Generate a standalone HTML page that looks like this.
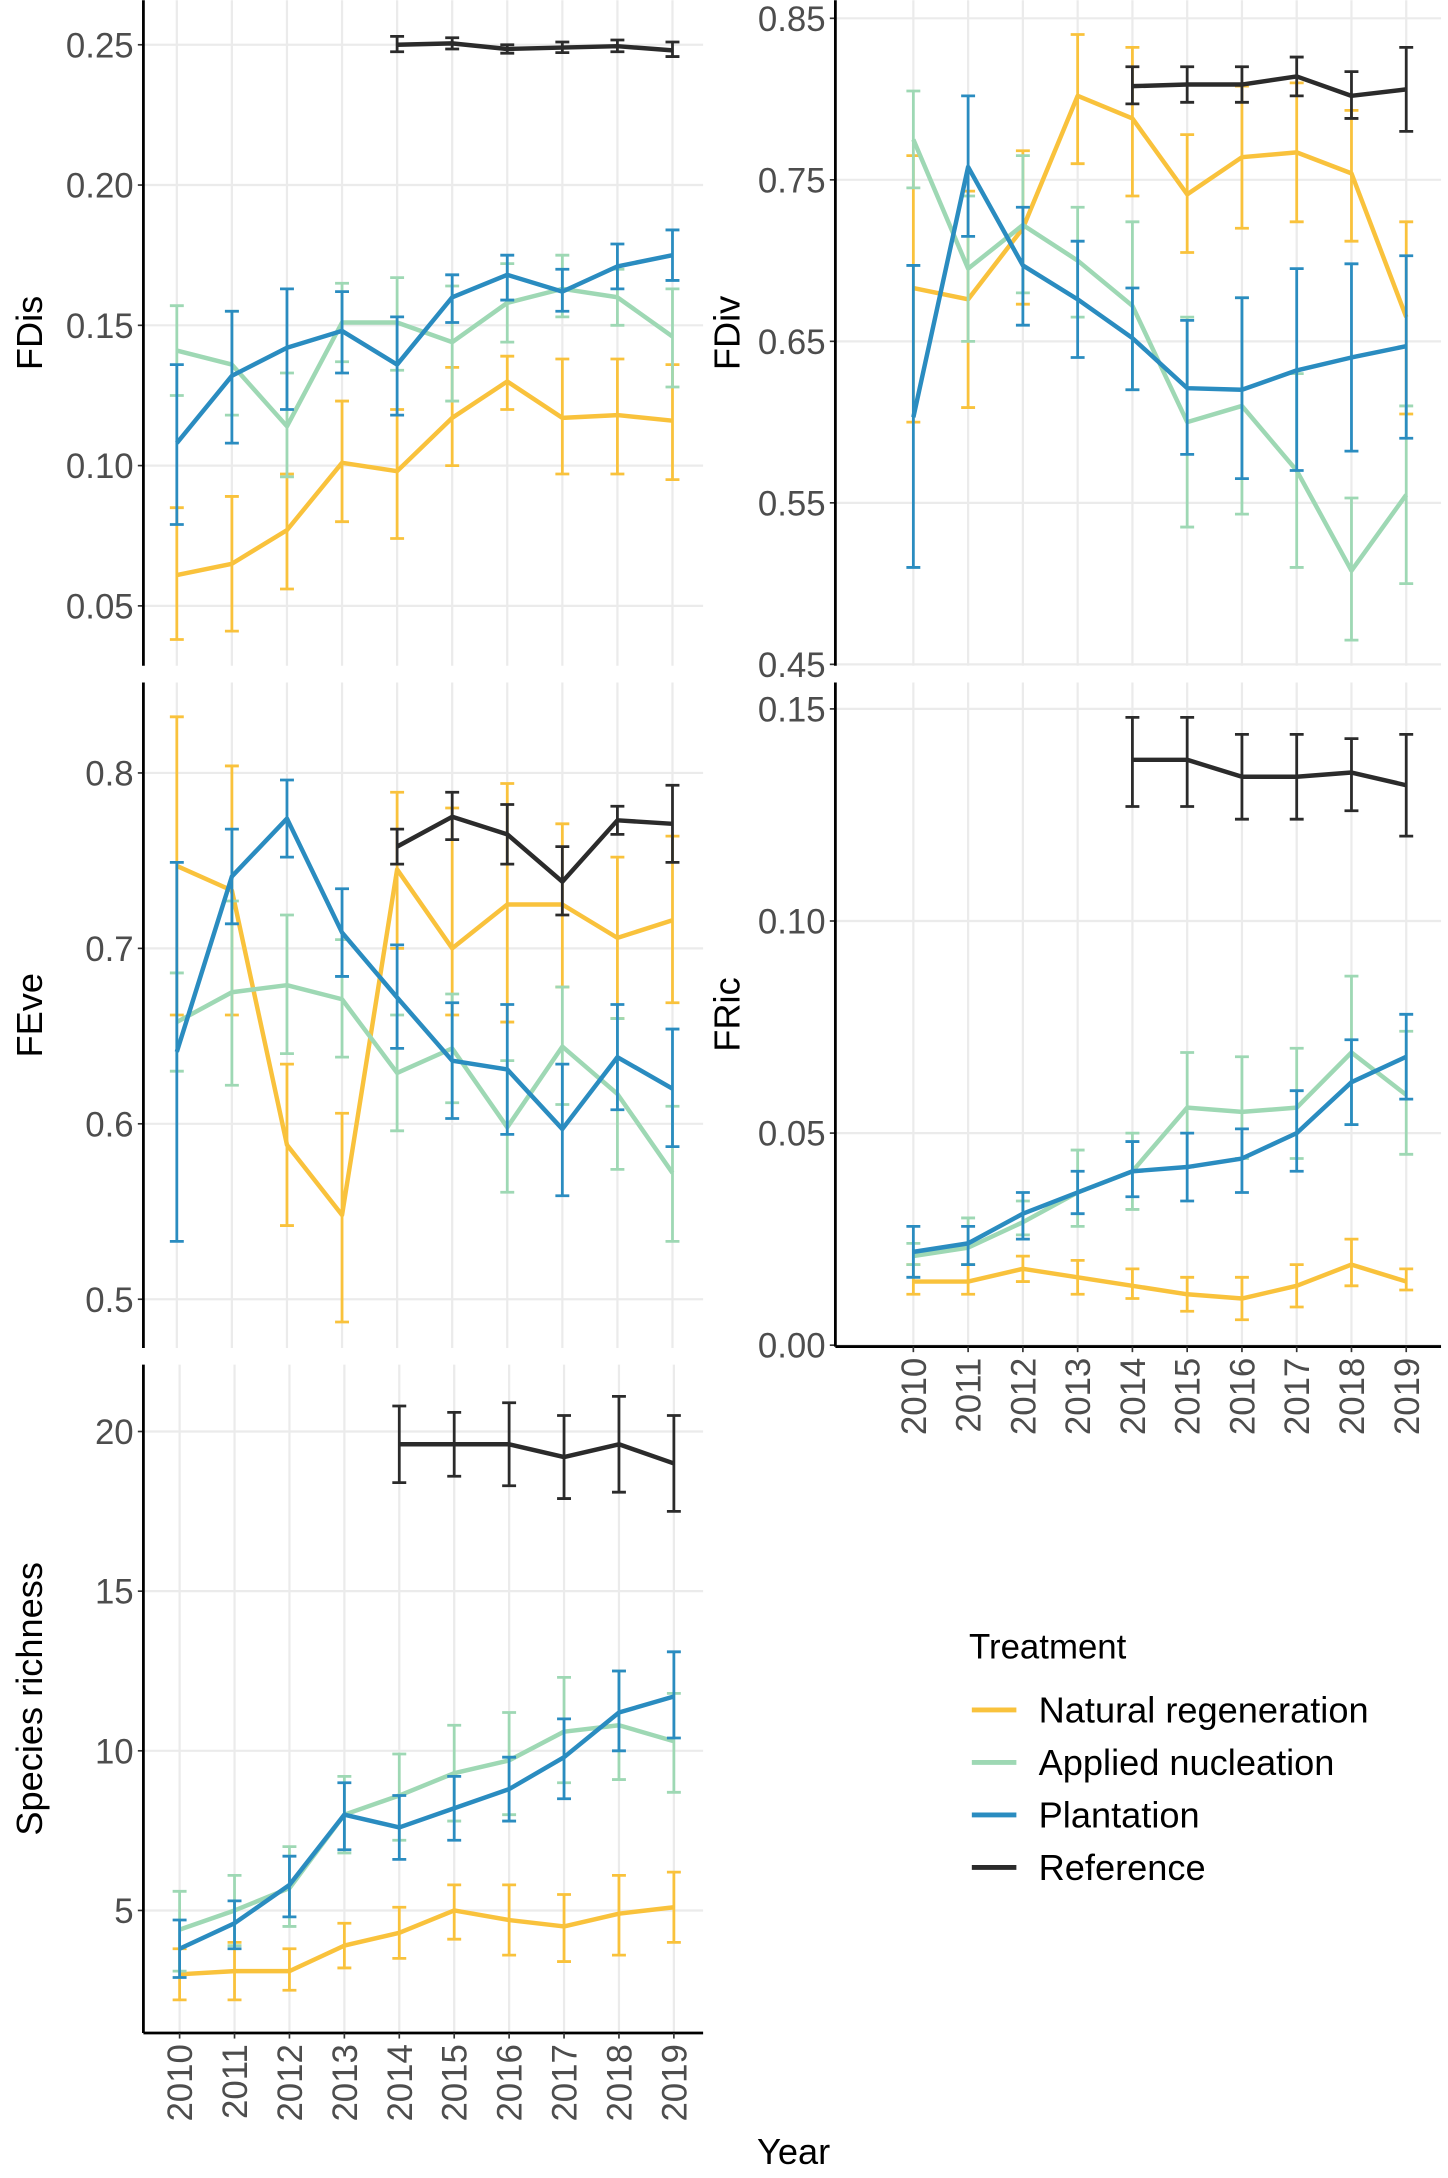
<!DOCTYPE html>
<html><head><meta charset="utf-8"><style>
html,body{margin:0;padding:0;background:#fff;}
svg{display:block;}
</style></head><body>
<svg id="fig" width="1448" height="2178" viewBox="0 0 1040 1564" xmlns="http://www.w3.org/2000/svg" font-family="Liberation Sans, Arial, sans-serif"></svg>
<script>
const years = [2010,2011,2012,2013,2014,2015,2016,2017,2018,2019];
const refYears = [2014,2015,2016,2017,2018,2019];
const seriesNames = ["Natural regeneration","Applied nucleation","Plantation","Reference"];
const seriesColors = ["#F9C23C","#9ED8B4","#2A8CC0","#2B2B2B"];

// FDis
const fdisNat = [0.061,0.065,0.077,0.101,0.098,0.117,0.130,0.117,0.118,0.116];
const fdisNatLo = [0.038,0.041,0.056,0.080,0.074,0.100,0.120,0.097,0.097,0.095];
const fdisNatHi = [0.085,0.089,0.097,0.123,0.120,0.135,0.139,0.138,0.138,0.136];
const fdisApp = [0.141,0.136,0.114,0.151,0.151,0.144,0.158,0.163,0.160,0.146];
const fdisAppLo = [0.125,0.118,0.096,0.137,0.134,0.123,0.144,0.153,0.150,0.128];
const fdisAppHi = [0.157,0.155,0.133,0.165,0.167,0.164,0.172,0.175,0.170,0.163];
const fdisPla = [0.108,0.132,0.142,0.148,0.136,0.160,0.168,0.162,0.171,0.175];
const fdisPlaLo = [0.079,0.108,0.120,0.133,0.118,0.151,0.159,0.155,0.163,0.166];
const fdisPlaHi = [0.136,0.155,0.163,0.162,0.153,0.168,0.175,0.170,0.179,0.184];
const fdisRef = [0.2500,0.2505,0.2485,0.2490,0.2495,0.2480];
const fdisRefLo = [0.2475,0.2485,0.2470,0.2472,0.2475,0.2458];
const fdisRefHi = [0.2530,0.2525,0.2500,0.2510,0.2517,0.2510];
const fdisTicks = [0.05,0.10,0.15,0.20,0.25];
const fdisTickLabels = ["0.05","0.10","0.15","0.20","0.25"];

// FDiv
const fdivNat = [0.683,0.676,0.720,0.802,0.788,0.741,0.764,0.767,0.754,0.665];
const fdivNatLo = [0.600,0.609,0.673,0.760,0.740,0.705,0.720,0.724,0.712,0.605];
const fdivNatHi = [0.765,0.743,0.768,0.840,0.832,0.778,0.808,0.810,0.793,0.724];
const fdivApp = [0.775,0.695,0.722,0.700,0.672,0.600,0.610,0.570,0.508,0.555];
const fdivAppLo = [0.745,0.650,0.680,0.665,0.620,0.535,0.543,0.510,0.465,0.500];
const fdivAppHi = [0.805,0.740,0.765,0.733,0.724,0.665,0.677,0.630,0.553,0.610];
const fdivPla = [0.603,0.758,0.697,0.676,0.652,0.621,0.620,0.632,0.640,0.647];
const fdivPlaLo = [0.510,0.715,0.660,0.640,0.620,0.580,0.565,0.570,0.582,0.590];
const fdivPlaHi = [0.697,0.802,0.733,0.712,0.683,0.663,0.677,0.695,0.698,0.703];
const fdivRef = [0.808,0.809,0.809,0.814,0.802,0.806];
const fdivRefLo = [0.797,0.798,0.798,0.802,0.788,0.780];
const fdivRefHi = [0.820,0.820,0.820,0.826,0.817,0.832];
const fdivTicks = [0.45,0.55,0.65,0.75,0.85];
const fdivTickLabels = ["0.45","0.55","0.65","0.75","0.85"];

// FEve
const feveNat = [0.747,0.733,0.588,0.548,0.745,0.700,0.725,0.725,0.706,0.716];
const feveNatLo = [0.662,0.662,0.542,0.487,0.700,0.662,0.658,0.678,0.660,0.669];
const feveNatHi = [0.832,0.804,0.634,0.606,0.789,0.780,0.794,0.771,0.752,0.764];
const feveApp = [0.658,0.675,0.679,0.671,0.629,0.643,0.598,0.644,0.617,0.572];
const feveAppLo = [0.630,0.622,0.640,0.638,0.596,0.612,0.561,0.611,0.574,0.533];
const feveAppHi = [0.686,0.727,0.719,0.705,0.662,0.674,0.636,0.678,0.660,0.610];
const fevePla = [0.641,0.741,0.774,0.709,0.672,0.636,0.631,0.597,0.638,0.620];
const fevePlaLo = [0.533,0.714,0.752,0.684,0.643,0.603,0.594,0.559,0.608,0.587];
const fevePlaHi = [0.749,0.768,0.796,0.734,0.702,0.669,0.668,0.634,0.668,0.654];
const feveRef = [0.758,0.775,0.765,0.738,0.773,0.771];
const feveRefLo = [0.748,0.762,0.748,0.719,0.765,0.749];
const feveRefHi = [0.768,0.789,0.782,0.758,0.781,0.793];
const feveTicks = [0.5,0.6,0.7,0.8];
const feveTickLabels = ["0.5","0.6","0.7","0.8"];

// FRic
const fricNat = [0.015,0.015,0.018,0.016,0.014,0.012,0.011,0.014,0.019,0.015];
const fricNatLo = [0.012,0.012,0.015,0.012,0.011,0.008,0.006,0.009,0.014,0.013];
const fricNatHi = [0.019,0.019,0.021,0.020,0.018,0.016,0.016,0.019,0.025,0.018];
const fricApp = [0.021,0.023,0.029,0.036,0.041,0.056,0.055,0.056,0.069,0.059];
const fricAppLo = [0.019,0.019,0.026,0.028,0.032,0.042,0.044,0.044,0.052,0.045];
const fricAppHi = [0.024,0.030,0.034,0.046,0.050,0.069,0.068,0.070,0.087,0.074];
const fricPla = [0.022,0.024,0.031,0.036,0.041,0.042,0.044,0.050,0.062,0.068];
const fricPlaLo = [0.016,0.019,0.025,0.031,0.035,0.034,0.036,0.041,0.052,0.058];
const fricPlaHi = [0.028,0.028,0.036,0.041,0.048,0.050,0.051,0.060,0.072,0.078];
const fricRef = [0.138,0.138,0.134,0.134,0.135,0.132];
const fricRefLo = [0.127,0.127,0.124,0.124,0.126,0.120];
const fricRefHi = [0.148,0.148,0.144,0.144,0.143,0.144];
const fricTicks = [0.00,0.05,0.10,0.15];
const fricTickLabels = ["0.00","0.05","0.10","0.15"];

// Species richness
const srNat = [3.0,3.1,3.1,3.9,4.3,5.0,4.7,4.5,4.9,5.1];
const srNatLo = [2.2,2.2,2.5,3.2,3.5,4.1,3.6,3.4,3.6,4.0];
const srNatHi = [3.8,4.0,3.8,4.6,5.1,5.8,5.8,5.5,6.1,6.2];
const srApp = [4.4,5.0,5.7,8.0,8.6,9.3,9.7,10.6,10.8,10.3];
const srAppLo = [3.1,3.9,4.5,6.8,7.2,7.8,8.0,9.0,9.1,8.7];
const srAppHi = [5.6,6.1,7.0,9.2,9.9,10.8,11.2,12.3,12.5,11.8];
const srPla = [3.8,4.6,5.8,8.0,7.6,8.2,8.8,9.8,11.2,11.7];
const srPlaLo = [2.9,3.8,4.8,6.9,6.6,7.2,7.8,8.5,10.0,10.4];
const srPlaHi = [4.7,5.3,6.7,9.0,8.6,9.2,9.8,11.0,12.5,13.1];
const srRef = [19.6,19.6,19.6,19.2,19.6,19.0];
const srRefLo = [18.4,18.6,18.3,17.9,18.1,17.5];
const srRefHi = [20.8,20.6,20.9,20.5,21.1,20.5];
const srTicks = [5,10,15,20];
const srTickLabels = ["5","10","15","20"];

const NS = "http://www.w3.org/2000/svg";
const svg = document.getElementById('fig');
function mk(tag, attrs, parent){
  const e = document.createElementNS(NS, tag);
  for (const k in attrs) e.setAttribute(k, attrs[k]);
  (parent||svg).appendChild(e);
  return e;
}

function panel(cfg){
  const g = mk('g', {});
  
  
  const xs = y => cfg.x0 + (y - 2010) * (cfg.x1 - cfg.x0) / 9;
  const ys = v => cfg.p0 + (v - cfg.v0) * (cfg.p1 - cfg.p0) / (cfg.v1 - cfg.v0);
  years.forEach(yr => {
    const l = mk('line', {x1: xs(yr), x2: xs(yr), y1: cfg.top, y2: cfg.bottom, stroke: '#ebebeb', 'stroke-width': 1.6}, g);
    
    
  });
  cfg.ticks.forEach((t, i) => {
    const yy = ys(t);
    const l = mk('line', {x1: cfg.left, x2: cfg.right, y1: yy, y2: yy, stroke: '#ebebeb', 'stroke-width': 1.6}, g);
    
    
    mk('line', {x1: cfg.left - 4, x2: cfg.left, y1: yy, y2: yy, stroke: '#333', 'stroke-width': 1.2}, g);
    const tx = mk('text', {x: cfg.left - 7, y: yy + 9, 'text-anchor': 'end', 'font-size': 25, fill: '#4d4d4d'}, g);
    tx.textContent = cfg.tickLabels[i];
    
    
  });
  cfg.series.forEach((s, si) => {
    const xv = s.ref ? refYears : years;
    const col = seriesColors[si];
    const sg = mk('g', {}, g);
    
    
    xv.forEach((yr, i) => {
      const x = xs(yr);
      const eb = mk('path', {d: `M${x-5},${ys(s.lo[i])}H${x+5}M${x},${ys(s.lo[i])}V${ys(s.hi[i])}M${x-5},${ys(s.hi[i])}H${x+5}`, stroke: col, 'stroke-width': 2, fill: 'none'}, sg);
      
      
    });
    const pts = xv.map((yr, i) => xs(yr) + ',' + ys(s.m[i])).join(' ');
    const pl = mk('polyline', {points: pts, stroke: col, 'stroke-width': 3.2, fill: 'none', 'stroke-linejoin': 'round'}, sg);
    
    
  });
  const ya = mk('line', {x1: cfg.left, x2: cfg.left, y1: cfg.top, y2: cfg.bottom, stroke: '#000', 'stroke-width': 2}, g);
  
  
  const tt = mk('text', {transform: `translate(${cfg.titleX},${(cfg.top + cfg.bottom) / 2}) rotate(-90)`, 'text-anchor': 'middle', 'font-size': 26, fill: '#000'}, g);
  tt.textContent = cfg.title;
  
  
  if (cfg.xaxis) {
    const xa = mk('line', {x1: cfg.left, x2: cfg.right, y1: cfg.bottom, y2: cfg.bottom, stroke: '#000', 'stroke-width': 2}, g);
    
    
    years.forEach(yr => {
      const x = xs(yr);
      mk('line', {x1: x, x2: x, y1: cfg.bottom, y2: cfg.bottom + 4, stroke: '#333', 'stroke-width': 1.2}, g);
      const t = mk('text', {transform: `translate(${x + 9},${cfg.bottom + 8}) rotate(-90)`, 'text-anchor': 'end', 'font-size': 25, fill: '#4d4d4d'}, g);
      t.textContent = yr;
      
      
    });
  }
}

const sSet = (m, lo, hi, ref) => ({m, lo, hi, ref});

panel({name: 'fdis', title: 'FDis', titleX: 30, left: 103, right: 505, top: 0, bottom: 478, x0: 127, x1: 483, v0: 0.25, p0: 32, v1: 0.05, p1: 435,
  ticks: fdisTicks, tickLabels: fdisTickLabels,
  series: [sSet(fdisNat, fdisNatLo, fdisNatHi), sSet(fdisApp, fdisAppLo, fdisAppHi), sSet(fdisPla, fdisPlaLo, fdisPlaHi), sSet(fdisRef, fdisRefLo, fdisRefHi, true)]});
panel({name: 'fdiv', title: 'FDiv', titleX: 531, left: 600, right: 1035, top: 0, bottom: 478, x0: 656, x1: 1010, v0: 0.85, p0: 13, v1: 0.45, p1: 477,
  ticks: fdivTicks, tickLabels: fdivTickLabels,
  series: [sSet(fdivNat, fdivNatLo, fdivNatHi), sSet(fdivApp, fdivAppLo, fdivAppHi), sSet(fdivPla, fdivPlaLo, fdivPlaHi), sSet(fdivRef, fdivRefLo, fdivRefHi, true)]});
panel({name: 'feve', title: 'FEve', titleX: 30, left: 103, right: 505, top: 490, bottom: 968, x0: 127, x1: 483, v0: 0.8, p0: 555, v1: 0.5, p1: 933,
  ticks: feveTicks, tickLabels: feveTickLabels,
  series: [sSet(feveNat, feveNatLo, feveNatHi), sSet(feveApp, feveAppLo, feveAppHi), sSet(fevePla, fevePlaLo, fevePlaHi), sSet(feveRef, feveRefLo, feveRefHi, true)]});
panel({name: 'fric', title: 'FRic', titleX: 531, left: 600, right: 1035, top: 490, bottom: 967, x0: 656, x1: 1010, v0: 0.15, p0: 509, v1: 0.0, p1: 966, xaxis: true,
  ticks: fricTicks, tickLabels: fricTickLabels,
  series: [sSet(fricNat, fricNatLo, fricNatHi), sSet(fricApp, fricAppLo, fricAppHi), sSet(fricPla, fricPlaLo, fricPlaHi), sSet(fricRef, fricRefLo, fricRefHi, true)]});
panel({name: 'species-richness', title: 'Species richness', titleX: 30, left: 103, right: 505, top: 980, bottom: 1460, x0: 129, x1: 484, v0: 20, p0: 1028, v1: 5, p1: 1372, xaxis: true,
  ticks: srTicks, tickLabels: srTickLabels,
  series: [sSet(srNat, srNatLo, srNatHi), sSet(srApp, srAppLo, srAppHi), sSet(srPla, srPlaLo, srPlaHi), sSet(srRef, srRefLo, srRefHi, true)]});

const xt = mk('text', {x: 570, y: 1554, 'text-anchor': 'middle', 'font-size': 26, fill: '#000'});
xt.textContent = 'Year';



const lg = mk('g', {});


const lt = mk('text', {x: 696, y: 1191, 'font-size': 25, fill: '#000'}, lg);
lt.textContent = 'Treatment';


seriesNames.forEach((n, i) => {
  const yy = 1228 + i * 37.7;
  const eg = mk('g', {}, lg);
  
  
  mk('line', {x1: 698, x2: 730, y1: yy, y2: yy, stroke: seriesColors[i], 'stroke-width': 3.5}, eg);
  const t = mk('text', {x: 746, y: yy + 9, 'font-size': 26, fill: '#000'}, eg);
  t.textContent = n;
});
</script>
</body></html>
